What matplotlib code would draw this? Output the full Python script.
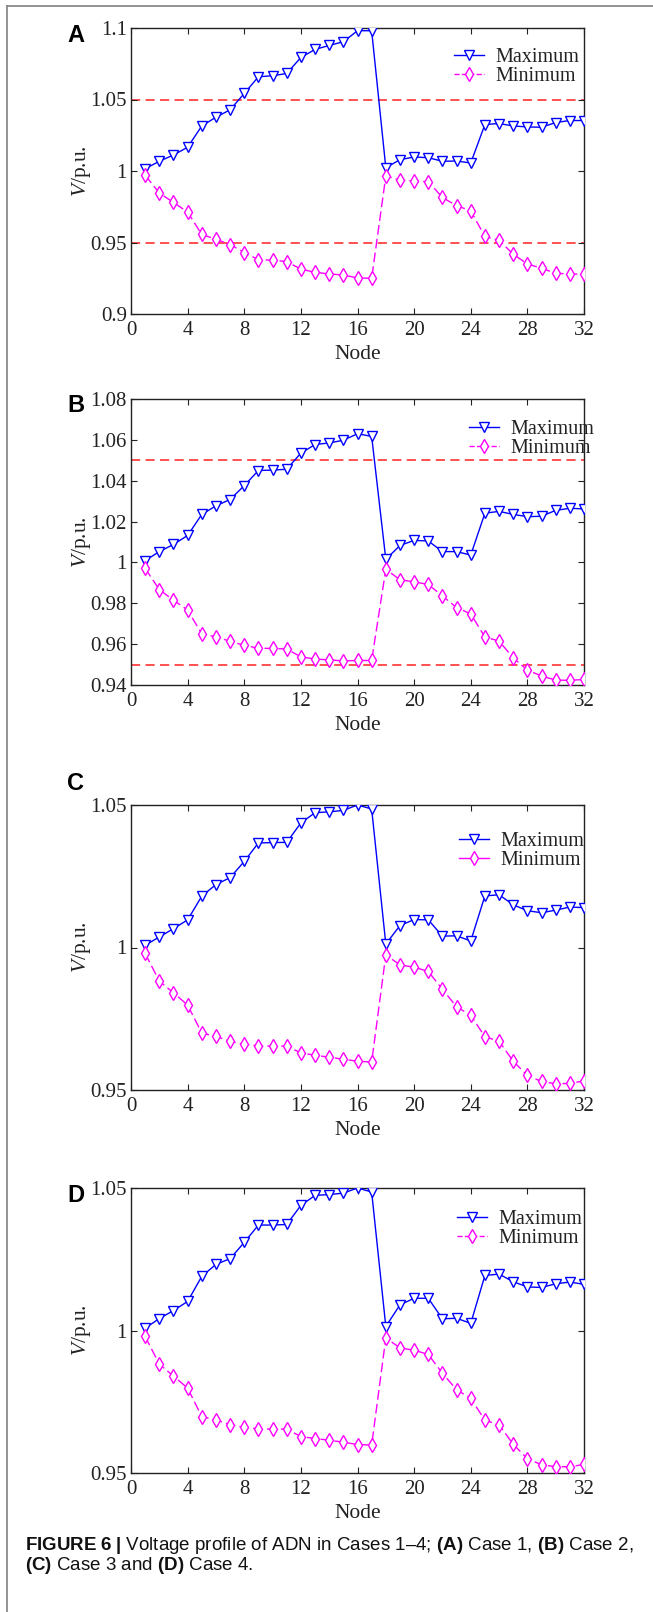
import matplotlib
matplotlib.use("Agg")
import matplotlib.pyplot as plt
from matplotlib.lines import Line2D

plt.rcParams["font.family"] = ["Liberation Serif", "DejaVu Serif"]
plt.rcParams["mathtext.fontset"] = "custom"
plt.rcParams["mathtext.it"] = "Liberation Serif:italic"
plt.rcParams["mathtext.rm"] = "Liberation Sans"
plt.rcParams["mathtext.bf"] = "Liberation Sans:bold"

nodes = list(range(1, 33))

# Case 1
max_a = [1.0016, 1.0068, 1.0112, 1.0166, 1.0315, 1.0376, 1.0428, 1.0542,
         1.0659, 1.0666, 1.0682, 1.0794, 1.0850, 1.0878, 1.0904, 1.0981,
         1.0981, 1.0023, 1.0079, 1.0098, 1.0093, 1.0068, 1.0070, 1.0056,
         1.0325, 1.0332, 1.0315, 1.0308, 1.0306, 1.0339, 1.0353, 1.0353]
min_a = [0.9970, 0.9846, 0.9780, 0.9713, 0.9556, 0.9523, 0.9486, 0.9430,
         0.9380, 0.9376, 0.9367, 0.9313, 0.9292, 0.9280, 0.9273, 0.9252,
         0.9250, 0.9965, 0.9937, 0.9930, 0.9925, 0.9815, 0.9757, 0.9722,
         0.9542, 0.9516, 0.9418, 0.9350, 0.9320, 0.9285, 0.9280, 0.9278]

# Case 2
max_b = [1.0009, 1.0053, 1.0088, 1.0132, 1.0235, 1.0277, 1.0308, 1.0376,
         1.0450, 1.0452, 1.0456, 1.0535, 1.0577, 1.0585, 1.0598, 1.0630,
         1.0617, 1.0015, 1.0083, 1.0108, 1.0105, 1.0053, 1.0053, 1.0036,
         1.0241, 1.0250, 1.0235, 1.0224, 1.0226, 1.0255, 1.0265, 1.0262]
min_b = [0.9971, 0.9867, 0.9815, 0.9767, 0.9650, 0.9636, 0.9614, 0.9594,
         0.9580, 0.9579, 0.9576, 0.9538, 0.9527, 0.9523, 0.9518, 0.9520,
         0.9520, 0.9967, 0.9915, 0.9905, 0.9892, 0.9836, 0.9779, 0.9748,
         0.9635, 0.9615, 0.9533, 0.9473, 0.9444, 0.9424, 0.9423, 0.9427]

# Case 3
max_c = [1.0008, 1.0037, 1.0066, 1.0097, 1.0180, 1.0221, 1.0245, 1.0302,
         1.0367, 1.0368, 1.0369, 1.0437, 1.0473, 1.0476, 1.0481, 1.0500,
         1.0486, 1.0012, 1.0077, 1.0098, 1.0097, 1.0040, 1.0041, 1.0023,
         1.0181, 1.0185, 1.0150, 1.0129, 1.0122, 1.0131, 1.0142, 1.0140]
min_c = [0.9979, 0.9882, 0.9841, 0.9798, 0.9700, 0.9688, 0.9671, 0.9660,
         0.9655, 0.9654, 0.9654, 0.9630, 0.9622, 0.9615, 0.9608, 0.9601,
         0.9598, 0.9974, 0.9939, 0.9931, 0.9916, 0.9853, 0.9792, 0.9762,
         0.9687, 0.9671, 0.9601, 0.9551, 0.9530, 0.9522, 0.9523, 0.9532]

# Case 4
max_d = [1.0008, 1.0042, 1.0070, 1.0102, 1.0190, 1.0232, 1.0252, 1.0309,
         1.0370, 1.0370, 1.0372, 1.0439, 1.0474, 1.0477, 1.0482, 1.0500,
         1.0486, 1.0014, 1.0090, 1.0113, 1.0113, 1.0041, 1.0043, 1.0025,
         1.0193, 1.0198, 1.0171, 1.0153, 1.0151, 1.0164, 1.0170, 1.0162]
min_d = [0.9979, 0.9882, 0.9840, 0.9798, 0.9698, 0.9686, 0.9670, 0.9660,
         0.9655, 0.9654, 0.9654, 0.9628, 0.9621, 0.9615, 0.9608, 0.9600,
         0.9598, 0.9974, 0.9939, 0.9931, 0.9916, 0.9850, 0.9792, 0.9762,
         0.9685, 0.9669, 0.9601, 0.9550, 0.9529, 0.9522, 0.9522, 0.9530]

limits = [0.95, 1.05]
xticks = [0, 4, 8, 12, 16, 20, 24, 28, 32]

yticks_a = [0.9, 0.95, 1.0, 1.05, 1.1]
ylabels_a = ["0.9", "0.95", "1", "1.05", "1.1"]
yticks_b = [0.94, 0.96, 0.98, 1.0, 1.02, 1.04, 1.06, 1.08]
ylabels_b = ["0.94", "0.96", "0.98", "1", "1.02", "1.04", "1.06", "1.08"]
yticks_cd = [0.95, 1.0, 1.05]
ylabels_cd = ["0.95", "1", "1.05"]

W, H = 653, 1612
fig = plt.figure(figsize=(W / 100, H / 100), dpi=100)

# page frame (left and top rules)
fig.add_artist(Line2D([7 / W, 7 / W], [0, 1 - 6 / H], color="#8a8a8a", lw=1.3))
fig.add_artist(Line2D([7 / W, 1], [1 - 6 / H, 1 - 6 / H], color="#8a8a8a", lw=1.3))

L, R = 131, 584
panels = [
    # letter, max, min, y-range, ticks, labels, top, bottom, limits?, legend (x, y), letter y, min legend style
    ("A", max_a, min_a, (0.9, 1.1), yticks_a, ylabels_a, 28, 314, True, (454, 67), 36, "--"),
    ("B", max_b, min_b, (0.94, 1.08), yticks_b, ylabels_b, 399, 685, True, (469, 439), 406, "--"),
    ("C", max_c, min_c, (0.95, 1.05), yticks_cd, ylabels_cd, 805, 1090, False, (459, 851), 783, "-"),
    ("D", max_d, min_d, (0.95, 1.05), yticks_cd, ylabels_cd, 1188, 1473, False, (457, 1229), 1196, "--"),
]

for letter, vmax, vmin, yr, yt, yl, top, bot, show_lim, leg, ly, mstyle in panels:
    ax = fig.add_axes([L / W, 1 - bot / H, (R - L) / W, (bot - top) / H])
    if show_lim:
        for v in limits:
            ax.axhline(v, color="#ff2020", lw=1.1, ls=(0, (6, 3.5)), zorder=1)
    ax.plot(nodes, vmax, color="#0000ff", lw=1.0, marker="v", ms=7,
            mfc="white", mec="#0000ff", mew=1.0, zorder=3)
    ax.plot(nodes, vmin, color="#ff00ff", lw=1.0, ls=(0, (7, 3)), marker="d", ms=7.5,
            mfc="white", mec="#ff00ff", mew=1.0, zorder=3)
    ax.set_xlim(0, 32)
    ax.set_ylim(*yr)
    ax.set_xticks(xticks)
    ax.set_yticks(yt)
    ax.set_yticklabels(yl)
    ax.tick_params(direction="in", top=True, right=True, length=4.5, width=0.8,
                   labelsize=15, colors="#222222")
    ax.tick_params(axis="y", pad=3)
    ax.tick_params(axis="x", pad=5)
    for s in ax.spines.values():
        s.set_linewidth(1.0)
        s.set_color("#222222")
    ax.set_xlabel("Node", fontsize=15.5, color="#222222")
    ax.xaxis.set_label_coords(0.5, -31 / (bot - top), transform=ax.transAxes)
    ax.set_ylabel(r"$V$/p.u.", fontsize=15.5, color="#222222")
    ax.yaxis.set_label_coords((93 - L) / (R - L), 0.5)

    handles = [
        Line2D([], [], color="#0000ff", lw=1.0, marker="v", ms=7, mfc="white", mec="#0000ff"),
        Line2D([], [], color="#ff00ff", lw=1.0, ls=mstyle, marker="d", ms=7.5,
               mfc="white", mec="#ff00ff"),
    ]
    ax.legend(handles, ["Maximum", "Minimum"], loc="center left",
              bbox_to_anchor=(leg[0] / W, 1 - leg[1] / H), bbox_transform=fig.transFigure,
              frameon=False, fontsize=14.5, handlelength=1.5, handletextpad=0.55,
              labelspacing=0.02, borderpad=0, borderaxespad=0, labelcolor="#222222")

    fig.text(67 / W, 1 - ly / H, letter, fontsize=17, fontweight="bold",
             family="Liberation Sans", va="center", ha="left")

cap1 = (r"$\mathbf{FIGURE\ 6\ |}$ Voltage profile of ADN in Cases 1–4; "
        r"$\mathbf{(A)}$ Case 1, $\mathbf{(B)}$ Case 2,")
cap2 = r"$\mathbf{(C)}$ Case 3 and $\mathbf{(D)}$ Case 4."
fig.text(25 / W, 1 - 1545 / H, cap1, fontsize=13.5, family="Liberation Sans",
         va="center", ha="left", color="#111111")
fig.text(25 / W, 1 - 1566 / H, cap2, fontsize=13.5, family="Liberation Sans",
         va="center", ha="left", color="#111111")

fig.savefig("out.png", dpi=100)
